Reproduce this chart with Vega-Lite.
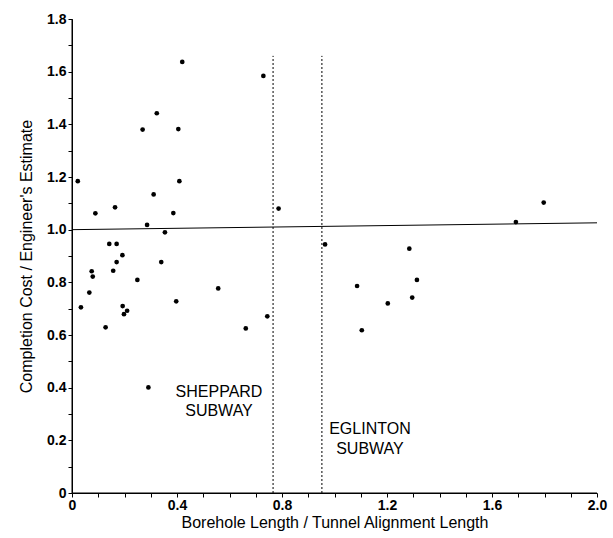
{
  "$schema": "https://vega.github.io/schema/vega-lite/v6.json",
  "width": 525,
  "height": 474,
  "autosize": {"type": "none"},
  "padding": {"left": 72, "top": 19, "right": 16, "bottom": 45},
  "config": {
    "view": {"stroke": null},
    "font": "Liberation Sans"
  },
  "datasets": {
    "pts": [
      {"x": 0.42, "y": 1.637},
      {"x": 0.729, "y": 1.584},
      {"x": 0.323, "y": 1.442},
      {"x": 0.269, "y": 1.38},
      {"x": 0.405, "y": 1.382},
      {"x": 0.022, "y": 1.184},
      {"x": 0.409, "y": 1.184},
      {"x": 0.311, "y": 1.134},
      {"x": 0.089, "y": 1.062},
      {"x": 0.164, "y": 1.085},
      {"x": 0.386, "y": 1.063},
      {"x": 0.787, "y": 1.08},
      {"x": 0.286, "y": 1.018},
      {"x": 0.354, "y": 0.99},
      {"x": 0.142, "y": 0.946},
      {"x": 0.17, "y": 0.946},
      {"x": 0.192, "y": 0.903},
      {"x": 0.964, "y": 0.944},
      {"x": 0.17, "y": 0.877},
      {"x": 0.34, "y": 0.877},
      {"x": 0.075, "y": 0.842},
      {"x": 0.079, "y": 0.822},
      {"x": 0.157, "y": 0.844},
      {"x": 0.249, "y": 0.809},
      {"x": 0.066, "y": 0.761},
      {"x": 0.557, "y": 0.777},
      {"x": 0.397, "y": 0.728},
      {"x": 0.034, "y": 0.705},
      {"x": 0.193, "y": 0.71},
      {"x": 0.21, "y": 0.692},
      {"x": 0.198, "y": 0.679},
      {"x": 0.744, "y": 0.671},
      {"x": 0.128, "y": 0.629},
      {"x": 0.662, "y": 0.625},
      {"x": 0.291, "y": 0.401},
      {"x": 1.285, "y": 0.928},
      {"x": 1.086, "y": 0.786},
      {"x": 1.314, "y": 0.809},
      {"x": 1.296, "y": 0.742},
      {"x": 1.203, "y": 0.72},
      {"x": 1.104, "y": 0.618},
      {"x": 1.797, "y": 1.103},
      {"x": 1.691, "y": 1.029}
    ],
    "hline": [
      {"x": 0, "y": 1.0},
      {"x": 2.0, "y": 1.026}
    ],
    "vlines": [
      {"x": 0.766, "y": 0, "y2": 1.66},
      {"x": 0.952, "y": 0, "y2": 1.66}
    ],
    "axislines": [
      {"x": 0, "y": 0, "x2": 0, "y2": 1.8},
      {"x": 0, "y": 0, "x2": 2.0, "y2": 0}
    ],
    "labels": [
      {"x": 0.56, "y": 0.382, "text": "SHEPPARD"},
      {"x": 0.56, "y": 0.312, "text": "SUBWAY"},
      {"x": 1.135, "y": 0.242, "text": "EGLINTON"},
      {"x": 1.135, "y": 0.166, "text": "SUBWAY"}
    ]
  },
  "encoding": {
    "x": {
      "field": "x", "type": "quantitative",
      "scale": {"domain": [0, 2], "nice": false, "zero": true},
      "axis": {
        "title": "Borehole Length / Tunnel Alignment Length",
        "grid": false,
        "domain": true,
        "ticks": true,
        "domainColor": "#000000",
        "domainWidth": 1,
        "tickColor": "#000000",
        "tickWidth": 1,
        "labelColor": "#000000",
        "titleColor": "#000000",
        "values": [0, 0.1, 0.2, 0.3, 0.4, 0.5, 0.6, 0.7, 0.8, 0.9, 1.0, 1.1, 1.2, 1.3, 1.4, 1.5, 1.6, 1.7, 1.8, 1.9, 2.0],
        "labelExpr": "round(datum.value*10) % 4 == 0 ? (datum.value == 0 ? '0' : format(datum.value, '.1f')) : ''",
        "labelFontSize": 14,
        "labelFontWeight": "bold",
        "labelPadding": 1,
        "labelOverlap": false,
        "labelFlush": false,
        "tickSize": 4,
        "titleFontSize": 16,
        "titleFontWeight": "normal",
        "titlePadding": 2
      }
    },
    "y": {
      "field": "y", "type": "quantitative",
      "scale": {"domain": [0, 1.8], "nice": false},
      "axis": {
        "title": "Completion Cost / Engineer's Estimate",
        "grid": false,
        "domain": true,
        "ticks": true,
        "domainColor": "#000000",
        "domainWidth": 1,
        "tickColor": "#000000",
        "tickWidth": 1,
        "labelColor": "#000000",
        "titleColor": "#000000",
        "values": [0, 0.1, 0.2, 0.3, 0.4, 0.5, 0.6, 0.7, 0.8, 0.9, 1.0, 1.1, 1.2, 1.3, 1.4, 1.5, 1.6, 1.7, 1.8],
        "labelExpr": "round(datum.value*10) % 2 == 0 ? (datum.value == 0 ? '0' : format(datum.value, '.1f')) : ''",
        "labelFontSize": 14,
        "labelFontWeight": "bold",
        "labelPadding": 2,
        "labelOverlap": false,
        "labelFlush": false,
        "tickSize": 4,
        "titleFontSize": 16,
        "titleFontWeight": "normal",
        "titlePadding": 12
      }
    }
  },
  "layer": [
    {
      "data": {"name": "axislines"},
      "mark": {"type": "rule", "color": "black", "strokeWidth": 1},
      "encoding": {
        "x2": {"field": "x2"},
        "y2": {"field": "y2"}
      }
    },
    {
      "data": {"name": "pts"},
      "mark": {"type": "circle", "size": 22, "color": "black", "opacity": 1}
    },
    {
      "data": {"name": "hline"},
      "mark": {"type": "line", "color": "black", "strokeWidth": 1}
    },
    {
      "data": {"name": "vlines"},
      "mark": {"type": "rule", "color": "black", "strokeWidth": 1, "strokeDash": [2, 2]},
      "encoding": {
        "y2": {"field": "y2"}
      }
    },
    {
      "data": {"name": "labels"},
      "mark": {"type": "text", "fontSize": 16, "color": "black", "align": "center", "baseline": "middle"},
      "encoding": {
        "text": {"field": "text"}
      }
    }
  ]
}
